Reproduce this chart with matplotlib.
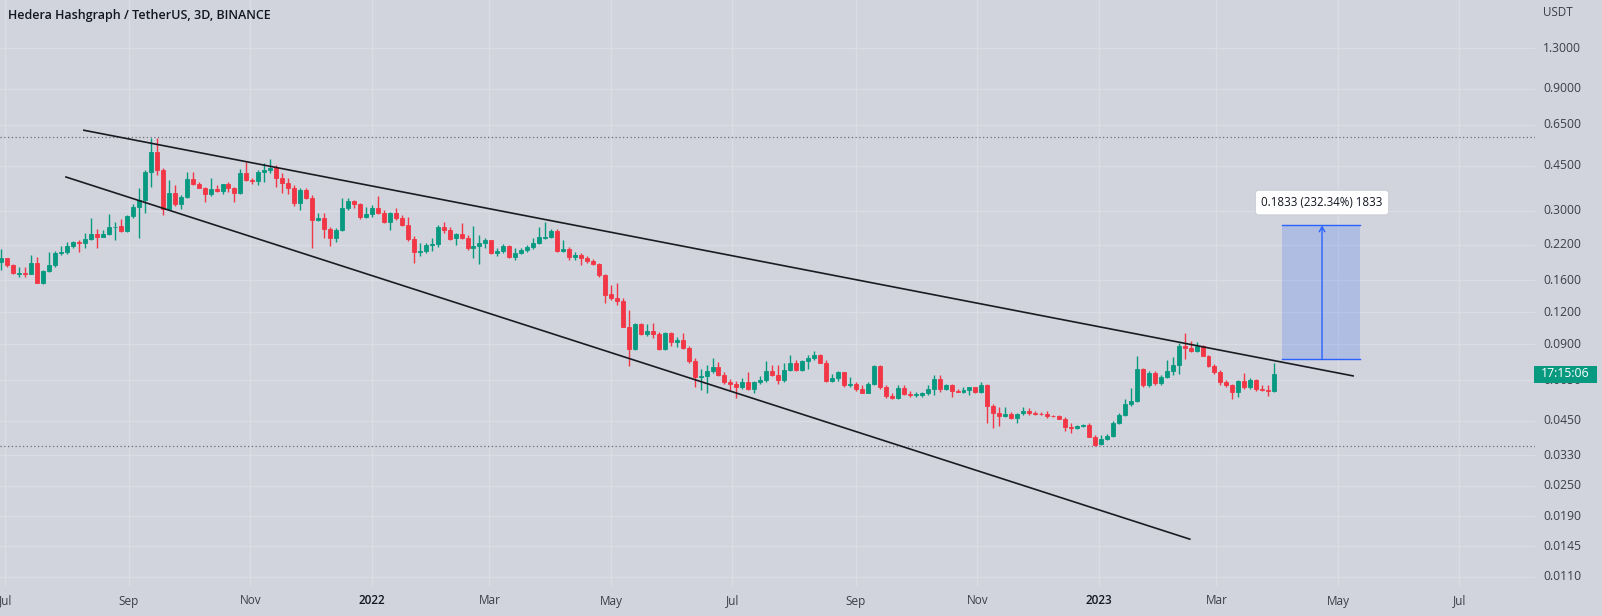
import numpy as np
import pandas as pd
import matplotlib
matplotlib.use("Agg")
import matplotlib.pyplot as plt
import matplotlib.dates as mdates
from matplotlib.patches import Rectangle
from matplotlib.transforms import blended_transform_factory

# ---------------- data (HBAR/USDT, 3D candles, Binance) ----------------
start_date = "2021-06-29"

opens = [0.189, 0.195, 0.1835, 0.1700, 0.1712, 0.1700, 0.1864, 0.1565, 0.1744, 0.1835,
         0.2040, 0.2055, 0.2179, 0.2265, 0.2233, 0.2321, 0.2428, 0.2370, 0.2428, 0.2579,
         0.2600, 0.2501, 0.2856, 0.3089, 0.330, 0.4259, 0.510, 0.4325, 0.3034, 0.3523,
         0.3195, 0.3398, 0.3977, 0.380, 0.3685, 0.3482, 0.3632, 0.3568, 0.380, 0.3666,
         0.3505, 0.4221, 0.395, 0.3915, 0.4259, 0.4325, 0.439, 0.4035, 0.3855, 0.3685,
         0.3221, 0.361, 0.335, 0.2755, 0.2813, 0.2533, 0.2336, 0.2517, 0.3062, 0.3279,
         0.3195, 0.2822, 0.290, 0.3062, 0.2943, 0.2713, 0.2943, 0.2798, 0.2634, 0.2315,
         0.2060, 0.2083, 0.2190, 0.2210, 0.2594, 0.2517, 0.2336, 0.2428, 0.2336, 0.2146,
         0.2170, 0.2239, 0.230, 0.2051, 0.2075, 0.2179, 0.1979, 0.2040, 0.2102, 0.2165,
         0.2233, 0.2340, 0.2360, 0.2501, 0.2089, 0.2120, 0.1979, 0.2010, 0.1951, 0.1907,
         0.1859, 0.1678, 0.1410, 0.1366, 0.1330, 0.1052, 0.0858, 0.1078, 0.0985, 0.1012,
         0.0985, 0.0858, 0.0994, 0.0919, 0.0933, 0.0866, 0.0774, 0.0666, 0.0672, 0.0708,
         0.0730, 0.0678, 0.0640, 0.0630, 0.0613, 0.0639, 0.0600, 0.0639, 0.0650, 0.0708,
         0.0678, 0.0650, 0.0712, 0.0760, 0.0712, 0.0772, 0.0792, 0.0816, 0.0760, 0.0645,
         0.0661, 0.0696, 0.0619, 0.0627, 0.0598, 0.0579, 0.0629, 0.0738, 0.0608, 0.0562,
         0.0552, 0.0606, 0.0575, 0.0566, 0.0570, 0.0577, 0.0600, 0.0656, 0.0600, 0.0619,
         0.0590, 0.0585, 0.0592, 0.0608, 0.0585, 0.0619, 0.0514, 0.0481, 0.0471, 0.0480,
         0.0460, 0.0482, 0.0490, 0.0483, 0.0480, 0.0478, 0.0470, 0.0468, 0.0458, 0.0427,
         0.0423, 0.0428, 0.0433, 0.0390, 0.0364, 0.0381, 0.0391, 0.0442, 0.0475, 0.0524,
         0.0538, 0.0718, 0.0619, 0.0694, 0.0633, 0.0668, 0.0706, 0.0746, 0.0884, 0.0866,
         0.0848, 0.0884, 0.0810, 0.0738, 0.0700, 0.0639, 0.0619, 0.0585, 0.0645, 0.0608,
         0.0650, 0.0602, 0.0596, 0.0590]

highs = [0.213, 0.196, 0.186, 0.1808, 0.181, 0.201, 0.198, 0.1755, 0.207, 0.2089,
         0.218, 0.2265, 0.2286, 0.2300, 0.2443, 0.2798, 0.2533, 0.2517, 0.290, 0.2713,
         0.2772, 0.2882, 0.3195, 0.3666, 0.4325, 0.5755, 0.5755, 0.439, 0.395, 0.3776,
         0.3451, 0.4259, 0.4259, 0.389, 0.3718, 0.4014, 0.3776, 0.3823, 0.389, 0.3718,
         0.4349, 0.4658, 0.4014, 0.4325, 0.4591, 0.4763, 0.4521, 0.4196, 0.4014, 0.3776,
         0.3666, 0.3666, 0.3451, 0.2926, 0.2926, 0.2579, 0.2556, 0.335, 0.335, 0.330,
         0.3221, 0.3089, 0.3155, 0.342, 0.3015, 0.2964, 0.3062, 0.2882, 0.2838, 0.2380,
         0.2239, 0.2239, 0.2336, 0.2634, 0.2713, 0.2579, 0.2443, 0.2690, 0.2406, 0.2610,
         0.2406, 0.2336, 0.2310, 0.2134, 0.2218, 0.2190, 0.2134, 0.2134, 0.2199, 0.2336,
         0.2594, 0.2713, 0.2533, 0.2533, 0.230, 0.2165, 0.207, 0.2040, 0.1991, 0.1933,
         0.1869, 0.1700, 0.1533, 0.1565, 0.1360, 0.1223, 0.1085, 0.1091, 0.1078, 0.1091,
         0.1005, 0.1000, 0.1000, 0.0962, 0.0994, 0.0884, 0.0792, 0.0718, 0.0745, 0.0796,
         0.0766, 0.0700, 0.0655, 0.0645, 0.0661, 0.0700, 0.0645, 0.0672, 0.0774, 0.0745,
         0.0745, 0.0756, 0.0816, 0.0780, 0.0779, 0.0816, 0.0848, 0.0823, 0.0779, 0.0689,
         0.0708, 0.0700, 0.0668, 0.0639, 0.0622, 0.0637, 0.0745, 0.0745, 0.0619, 0.0579,
         0.0619, 0.0619, 0.0590, 0.0585, 0.0585, 0.0619, 0.0678, 0.0678, 0.0630, 0.0630,
         0.0598, 0.0613, 0.0613, 0.0613, 0.0639, 0.0625, 0.0525, 0.0511, 0.0509, 0.0488,
         0.0484, 0.0509, 0.0505, 0.0490, 0.0486, 0.0490, 0.0476, 0.0473, 0.0464, 0.0440,
         0.0433, 0.0436, 0.0442, 0.0396, 0.0396, 0.0398, 0.0450, 0.0482, 0.0546, 0.0603,
         0.0808, 0.0725, 0.0708, 0.0708, 0.0678, 0.0779, 0.0800, 0.0910, 0.0994, 0.0927,
         0.0919, 0.0894, 0.0816, 0.0750, 0.0712, 0.0650, 0.0625, 0.0650, 0.0692, 0.0661,
         0.0655, 0.0622, 0.0619, 0.0756]

lows = [0.1755, 0.180, 0.169, 0.1652, 0.165, 0.1690, 0.1556, 0.1546, 0.1728, 0.1808,
        0.2009, 0.2028, 0.2134, 0.2070, 0.2134, 0.2300, 0.2134, 0.2355, 0.2406, 0.2300,
        0.2479, 0.2479, 0.2813, 0.2336, 0.2926, 0.3718, 0.4134, 0.2882, 0.3015, 0.3126,
        0.3034, 0.335, 0.3765, 0.3666, 0.3249, 0.342, 0.3539, 0.3482, 0.3555, 0.3249,
        0.3482, 0.3925, 0.3823, 0.3776, 0.389, 0.4196, 0.3718, 0.3523, 0.3482, 0.3126,
        0.3015, 0.3322, 0.2134, 0.2740, 0.2336, 0.2179, 0.2265, 0.2501, 0.3015, 0.3062,
        0.2772, 0.2798, 0.2838, 0.2908, 0.2675, 0.2517, 0.2755, 0.2600, 0.2286, 0.1869,
        0.1991, 0.2040, 0.2089, 0.2153, 0.2443, 0.230, 0.2199, 0.2315, 0.2102, 0.1957,
        0.1859, 0.2134, 0.2028, 0.1991, 0.2040, 0.1957, 0.192, 0.2028, 0.2070, 0.2115,
        0.2218, 0.2315, 0.2336, 0.207, 0.207, 0.192, 0.192, 0.1835, 0.1869, 0.1835,
        0.1652, 0.1307, 0.1339, 0.1285, 0.1046, 0.0738, 0.0853, 0.0976, 0.0967, 0.0948,
        0.0853, 0.0853, 0.0884, 0.0878, 0.0858, 0.0756, 0.0608, 0.0594, 0.0577, 0.0694,
        0.0672, 0.0630, 0.0590, 0.0552, 0.0598, 0.0594, 0.0579, 0.0630, 0.0639, 0.0672,
        0.0630, 0.0639, 0.0708, 0.0708, 0.0705, 0.0720, 0.0779, 0.0756, 0.0639, 0.0639,
        0.0645, 0.0613, 0.0610, 0.0591, 0.0577, 0.0577, 0.0622, 0.0602, 0.0552, 0.0548,
        0.0548, 0.0570, 0.0556, 0.0556, 0.0560, 0.0570, 0.0568, 0.0585, 0.0594, 0.0556,
        0.0583, 0.0579, 0.0570, 0.0577, 0.0579, 0.0440, 0.0420, 0.0429, 0.0464, 0.0456,
        0.0442, 0.0473, 0.0473, 0.0476, 0.0473, 0.0460, 0.0464, 0.0456, 0.0411, 0.0403,
        0.0418, 0.0424, 0.0388, 0.0357, 0.0362, 0.0379, 0.0388, 0.0437, 0.0469, 0.0514,
        0.0532, 0.0613, 0.0613, 0.0622, 0.0622, 0.0661, 0.0678, 0.0684, 0.0784, 0.0840,
        0.0840, 0.0806, 0.0730, 0.0689, 0.0619, 0.0608, 0.0546, 0.0556, 0.0602, 0.0598,
        0.0590, 0.0590, 0.0562, 0.0585]

closes = [0.195, 0.1835, 0.1704, 0.1712, 0.1700, 0.1864, 0.1565, 0.1744, 0.1835, 0.2051,
          0.2055, 0.2179, 0.2265, 0.2233, 0.2321, 0.2428, 0.2370, 0.2428, 0.2579, 0.2590,
          0.2501, 0.2856, 0.3089, 0.330, 0.4259, 0.510, 0.4325, 0.3034, 0.3523, 0.3195,
          0.3398, 0.3977, 0.380, 0.3685, 0.3482, 0.3632, 0.3568, 0.380, 0.3666, 0.3505,
          0.4221, 0.395, 0.3915, 0.4259, 0.4325, 0.439, 0.4035, 0.3855, 0.3685, 0.3221,
          0.361, 0.335, 0.2755, 0.2813, 0.2533, 0.2336, 0.2517, 0.3062, 0.3279, 0.3195,
          0.2822, 0.290, 0.3062, 0.2943, 0.2713, 0.2943, 0.2798, 0.2634, 0.2315, 0.207,
          0.2083, 0.2199, 0.2210, 0.2594, 0.2517, 0.2315, 0.2428, 0.2336, 0.2146, 0.2170,
          0.2239, 0.230, 0.2051, 0.2075, 0.2179, 0.1979, 0.2040, 0.2102, 0.2165, 0.2233,
          0.2356, 0.2360, 0.2501, 0.2089, 0.2120, 0.1979, 0.2010, 0.1951, 0.1907, 0.1859,
          0.1678, 0.140, 0.1366, 0.1330, 0.1052, 0.0858, 0.1078, 0.0985, 0.1012, 0.0985,
          0.0858, 0.0994, 0.0919, 0.0933, 0.0866, 0.0774, 0.0666, 0.0672, 0.0708, 0.0730,
          0.0678, 0.0640, 0.0630, 0.0613, 0.0639, 0.0600, 0.0639, 0.0650, 0.0708, 0.0678,
          0.0650, 0.0712, 0.0760, 0.0712, 0.0772, 0.0792, 0.0816, 0.0760, 0.0645, 0.0661,
          0.0696, 0.0619, 0.0627, 0.0598, 0.0579, 0.0629, 0.0738, 0.0608, 0.0562, 0.0552,
          0.0606, 0.0575, 0.0566, 0.0572, 0.0577, 0.0600, 0.0656, 0.0600, 0.0619, 0.0590,
          0.0585, 0.0592, 0.0608, 0.0585, 0.0619, 0.0514, 0.0481, 0.0471, 0.0480, 0.0460,
          0.0480, 0.0490, 0.0483, 0.0480, 0.0478, 0.0470, 0.0468, 0.0458, 0.0426, 0.0423,
          0.0431, 0.0433, 0.0390, 0.0362, 0.0381, 0.0393, 0.0442, 0.0475, 0.0524, 0.0538,
          0.0718, 0.0619, 0.0694, 0.0633, 0.0668, 0.0706, 0.0746, 0.0884, 0.0866, 0.0848,
          0.0884, 0.0810, 0.0738, 0.0700, 0.0639, 0.0619, 0.0585, 0.0645, 0.0608, 0.0650,
          0.0602, 0.0596, 0.0590, 0.0689]

price_ticks = [1.3, 0.9, 0.65, 0.45, 0.30, 0.22, 0.16, 0.12, 0.09, 0.065,
               0.045, 0.033, 0.025, 0.019, 0.0145, 0.011]
price_labels = ["1.3000", "0.9000", "0.6500", "0.4500", "0.3000", "0.2200", "0.1600",
                "0.1200", "0.0900", "0.0650", "0.0450", "0.0330", "0.0250", "0.0190",
                "0.0145", "0.0110"]
month_ticks = ["2021-07-01", "2021-09-01", "2021-11-01", "2022-01-01", "2022-03-01",
               "2022-05-01", "2022-07-01", "2022-09-01", "2022-11-01", "2023-01-01",
               "2023-03-01", "2023-05-01", "2023-07-01"]
month_labels = ["Jul", "Sep", "Nov", "2022", "Mar", "May", "Jul", "Sep", "Nov", "2023",
                "Mar", "May", "Jul"]

upper_line_dates = ["2021-08-09", "2023-05-09"]
upper_line_prices = [0.620, 0.0674]
lower_line_dates = ["2021-07-31", "2023-02-16"]
lower_line_prices = [0.407, 0.01544]
dotted_levels = [0.5825, 0.0357]

measure_dates = ["2023-04-03", "2023-05-12"]
measure_arrow_date = "2023-04-23"
measure_low, measure_high = 0.0789, 0.2622
measure_text = "0.1833 (232.34%) 1833"

last_price = 0.0689
countdown = "17:15:06"
title = "Hedera Hashgraph / TetherUS, 3D, BINANCE"

# ---------------- style ----------------
BG = "#d1d4dc"
GRID = "#dadde3"
GREEN = "#089981"
RED = "#f23645"
TXT = "#131722"
AXT = "#3b3e47"
BLUE = "#2962ff"
plt.rcParams["font.family"] = ["Open Sans", "DejaVu Sans"]

W, H = 1602, 616
fig = plt.figure(figsize=(W / 100, H / 100), dpi=100, facecolor=BG)
plot_right, plot_bottom = 1535, 586
ax = fig.add_axes([0, (H - plot_bottom) / H, plot_right / W, plot_bottom / H])
ax.set_facecolor(BG)
for s in ax.spines.values():
    s.set_visible(False)
ax.set_yscale("log")
ax.set_ylim(0.01014, 2.005)
ax.set_xlim(mdates.date2num(pd.Timestamp("2021-06-28 07:00")),
            mdates.date2num(pd.Timestamp("2023-08-07 22:00")))
ax.tick_params(which="both", left=False, right=False, bottom=False, top=False,
               labelleft=False, labelbottom=False)
ax.minorticks_off()
ax.set_xticks([])
ax.set_yticks([])

xm = mdates.date2num(pd.to_datetime(month_ticks))
for v in xm:
    ax.axvline(v, color=GRID, lw=1, zorder=0)
for p in price_ticks:
    ax.axhline(p, color=GRID, lw=1, zorder=0)

for lvl in dotted_levels:
    ax.axhline(lvl, color="#6a6d78", lw=0.9, ls=(0, (1, 2)), zorder=1)

# candles
dates = pd.date_range(start_date, periods=len(closes), freq="3D")
x = mdates.date2num(dates)
o = np.array(opens); c = np.array(closes); h = np.array(highs); l = np.array(lows)
colors = np.where(c >= o, GREEN, RED)
ax.vlines(x, l, h, colors=colors, lw=1, zorder=2)
ax.bar(x, np.abs(c - o), bottom=np.minimum(o, c), width=2.0, color=colors,
       edgecolor=colors, linewidth=0.6, zorder=2)

# trend lines
ax.plot(mdates.date2num(pd.to_datetime(upper_line_dates)), upper_line_prices,
        color="#1a1c22", lw=1.2, zorder=3, solid_capstyle="butt")
ax.plot(mdates.date2num(pd.to_datetime(lower_line_dates)), lower_line_prices,
        color="#1a1c22", lw=1.2, zorder=3, solid_capstyle="butt")

# measurement box
m0, m1 = mdates.date2num(pd.to_datetime(measure_dates))
ma = mdates.date2num(pd.Timestamp(measure_arrow_date))
ax.add_patch(Rectangle((m0, measure_low), m1 - m0, measure_high - measure_low,
                       facecolor=BLUE, alpha=0.2, edgecolor="none", zorder=3))
ax.plot([m0, m1], [measure_high, measure_high], color=BLUE, lw=1, zorder=4)
ax.plot([m0, m1], [measure_low, measure_low], color=BLUE, lw=1, zorder=4)
ax.annotate("", xy=(ma, measure_high), xytext=(ma, measure_low),
            arrowprops=dict(arrowstyle="->,head_length=0.35,head_width=0.2",
                            color=BLUE, lw=1, shrinkA=0, shrinkB=0), zorder=4)
ax.annotate(measure_text, xy=(ma, measure_high), xytext=(0, 16.5),
            textcoords="offset points", ha="center", va="center", fontsize=8.3,
            color=TXT, zorder=6,
            bbox=dict(boxstyle="round,pad=0.5,rounding_size=0.3", fc="white",
                      ec="#c4c7cf", lw=0.5))

# price axis labels
tr_y = blended_transform_factory(fig.transFigure, ax.transData)
for p, lab in zip(price_ticks, price_labels):
    fig.text(1543 / W, p, lab, transform=tr_y, ha="left", va="center",
             fontsize=8.7, color=AXT, zorder=3)
fig.text(1543 / W, 1 - 12 / H, "USDT", ha="left", va="center", fontsize=8.4,
         color=AXT)

# last price label (covers the 0.0650 tick, as in the reference)
fig.patches.append(Rectangle((1534 / W, 1 - (374.5 + 8.5) / H), 63 / W, 17 / H,
                             transform=fig.transFigure, facecolor=GREEN,
                             edgecolor="none", zorder=5))
fig.text(1565.5 / W, last_price, countdown, transform=tr_y, ha="center",
         va="center", fontsize=8.8, color="white", zorder=6)

# time axis labels
tr_x = blended_transform_factory(ax.transData, fig.transFigure)
for v, lab in zip(xm, month_labels):
    is_year = lab.isdigit()
    fig.text(v, 1 - 601 / H, lab, transform=tr_x, ha="center", va="center",
             fontsize=8.5, color=TXT if is_year else AXT,
             fontweight="semibold" if is_year else "normal")

# title
fig.text(8 / W, 1 - 16 / H, title, ha="left", va="center", fontsize=9.0,
         fontweight="semibold", color=TXT)

fig.savefig("out.png", dpi=100, facecolor=BG)
